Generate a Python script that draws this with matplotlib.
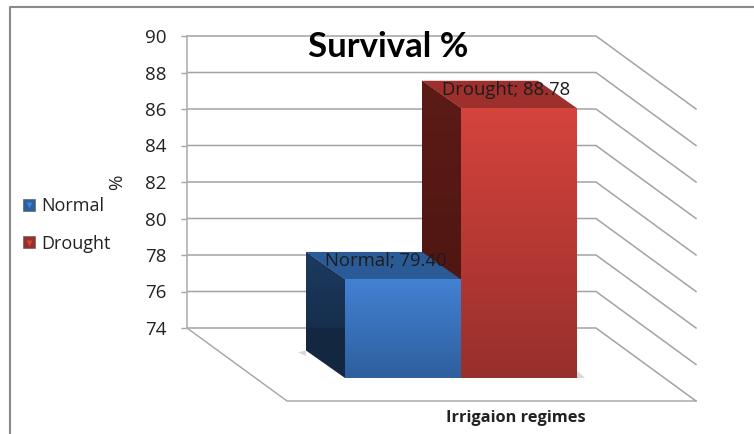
import matplotlib
matplotlib.use("Agg")
import matplotlib.pyplot as plt
import numpy as np
from matplotlib.colors import LinearSegmentedColormap
from matplotlib.legend_handler import HandlerTuple
from matplotlib.lines import Line2D
from matplotlib.patches import Patch, Polygon
from matplotlib.transforms import Affine2D

regimes = ["Normal", "Drought"]
survival = [79.40, 88.78]
y_ticks = [74, 76, 78, 80, 82, 84, 86, 88, 90]

plt.rcParams["font.family"] = ["Open Sans", "DejaVu Sans"]

W, H = 754, 434
fig = plt.figure(figsize=(W / 100, H / 100), dpi=100)
ax = fig.add_axes([187 / W, (H - 328) / H, 409 / W, 292 / H])

# one category is 116 px wide, the back wall sits behind the bars
x_left = -147 / 116
x_right = (409 - 147) / 116
ax.set_xlim(x_left, x_right)
ax.set_ylim(74, 90)

# back wall and floor
floor_dx = 100 / 116
floor_dy = 4
grid = "#a3a3a3"
for t in y_ticks:
    ax.plot([x_left, x_right, x_right + floor_dx], [t, t, t - floor_dy],
            color=grid, lw=1.1, clip_on=False, zorder=1)
ax.plot([x_left, x_left + floor_dx, x_right + floor_dx], [74, 70, 70],
        color=grid, lw=1.0, clip_on=False, zorder=1)

for s in ["top", "right", "bottom"]:
    ax.spines[s].set_visible(False)
ax.spines["left"].set_color("#b0b0b0")
ax.spines["left"].set_linewidth(1.2)
ax.set_xticks([])
ax.set_yticks(y_ticks)
ax.tick_params(axis="y", length=4.5, width=1.0, color=grid, pad=10,
               labelsize=13.5, labelcolor="#222222")

# bars sit nearer than the wall, so they get shifted in pixels
front = ax.transData + Affine2D().translate(69, -50)
depth_x = -39 / 116
depth_y = 27.5 / 18.25


def shade(patch, x0, x1, y0, y1, c_top, c_bottom, z):
    cmap = LinearSegmentedColormap.from_list("f", [c_top, c_bottom])
    im = ax.imshow(np.linspace(0, 1, 64).reshape(-1, 1), cmap=cmap, aspect="auto",
                   extent=(x0, x1, y0, y1), origin="upper", transform=front,
                   interpolation="bilinear", zorder=z)
    im.set_clip_path(patch)


face_cols = {"Normal": ("#4381d2", "#2e5f9e"), "Drought": ("#d5433d", "#982f2b")}
side_cols = {"Normal": ("#1c3a60", "#132740"), "Drought": ("#5c1b16", "#4a1410")}
top_cols = {"Normal": "#2b5b96", "Drought": "#9d302d"}
z_base = {"Normal": 6, "Drought": 3}

for i, (name, val) in enumerate(zip(regimes, survival)):
    z = z_base[name]
    l, r = i - 0.5, i + 0.5
    side = Polygon([(l, 74), (l, val), (l + depth_x, val + depth_y), (l + depth_x, 74 + depth_y)],
                   closed=True, transform=front, fc=side_cols[name][1], ec="none",
                   clip_on=False, zorder=z)
    ax.add_patch(side)
    shade(side, l + depth_x, l, 74, val + depth_y, side_cols[name][0], side_cols[name][1], z + 0.1)
    ax.add_patch(Polygon([(l, val), (r, val), (r + depth_x, val + depth_y), (l + depth_x, val + depth_y)],
                         closed=True, transform=front, fc=top_cols[name], ec="none",
                         clip_on=False, zorder=z + 0.2))

# soft floor shadows
ax.add_patch(Polygon([(-0.5 + depth_x - 0.07, 74 + depth_y - 0.1), (-0.5 + depth_x, 74 + depth_y),
                      (-0.5 + depth_x, 74 + depth_y - 0.3)],
                     closed=True, transform=front, fc="#d8d8d8", ec="none", clip_on=False, zorder=2))
ax.add_patch(Polygon([(1.5, 74), (1.57, 74.0), (1.5, 74.4)],
                     closed=True, transform=front, fc="#d8d8d8", ec="none", clip_on=False, zorder=2))

# front faces
bars = ax.bar(range(len(regimes)), [v - 74 for v in survival], bottom=74, width=1.0,
              transform=front, clip_on=False, zorder=8, color="none")
for i, (name, val, b) in enumerate(zip(regimes, survival, bars)):
    b.set_facecolor(face_cols[name][1])
    shade(b, i - 0.5, i + 0.5, 74, val, face_cols[name][0], face_cols[name][1], 8.1)

ax.set_xlim(x_left, x_right)
ax.set_ylim(74, 90)

# data labels
for i, (name, val) in enumerate(zip(regimes, survival)):
    ax.annotate(f"{name}; {val:.2f}", xy=(i - 0.5, val), xycoords=front,
                xytext=(41 + 4.5 * i, 18.5), textcoords="offset pixels",
                ha="center", va="center", fontsize=13.3, color="#1c1c1c", zorder=12)

# texts around the plot
fig.text(388 / W, 1 - 47 / H, "Survival %", family=["Lato", "DejaVu Sans"], fontweight="bold",
         fontsize=25, color="black", ha="center", va="center")
fig.text(117 / W, 1 - 182 / H, "%", fontsize=13.5, color="#222222", rotation=90,
         ha="center", va="center")
fig.text(516 / W, 1 - 418 / H, "Irrigaion regimes", fontweight="bold", fontsize=11.8,
         color="#222222", ha="center", va="center")

# legend keys: square with the little lighter wedge on top
handles = []
for n in regimes:
    square = Patch(facecolor=face_cols[n][1], edgecolor="#555555", lw=0.4)
    wedge = Line2D([], [], marker="v", ms=5, color=face_cols[n][0], mec="none", ls="none")
    handles.append((square, wedge))
fig.legend(handles, regimes, handler_map={tuple: HandlerTuple(ndivide=1, pad=0)},
           loc="center left", bbox_to_anchor=(23 / W, 1 - 225 / H),
           frameon=False, fontsize=13, labelcolor="#222222", handlelength=0.65,
           handleheight=0.65, handletextpad=0.35, labelspacing=1.08, borderpad=0, borderaxespad=0)

# chart frame
frame = "#8a8a8a"
fig.add_artist(Line2D([10 / W, 10 / W, 1], [0, 1 - 7 / H, 1 - 7 / H], color=frame, lw=1.5))

fig.savefig("out.png", dpi=100, facecolor="white")
